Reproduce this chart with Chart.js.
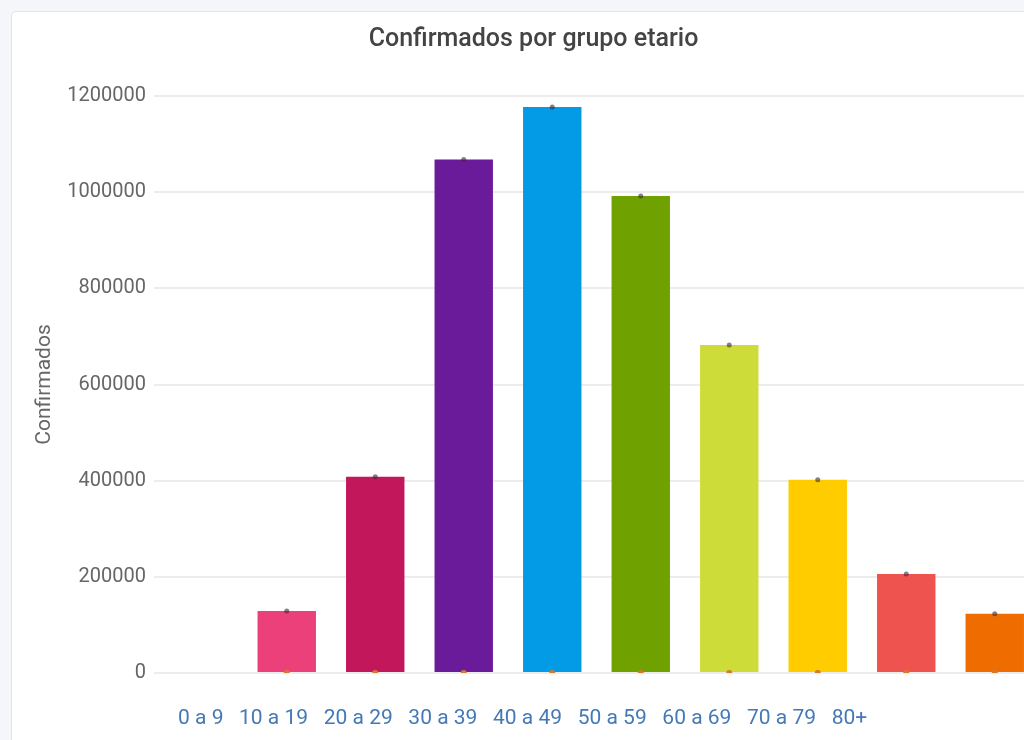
<!DOCTYPE html>
<html>
<head>
<meta charset="utf-8">
<script src="https://cdn.jsdelivr.net/npm/chart.js@4.4.1/dist/chart.umd.min.js"></script>
<style>
  html, body { margin: 0; padding: 0; width: 1024px; height: 740px; overflow: hidden; background: #f4f6f9; }
  #card { position: absolute; left: 11px; top: 11px; width: 1200px; height: 900px; background: #fff;
          border: 1px solid #e2e5e9; border-radius: 5px; }
  #wrap { position: absolute; left: 0; top: 0; width: 1100px; height: 728px; }
  #xlabels { position: absolute; left: 178px; top: 704px; display: flex; gap: 15.6px;
             font-family: Roboto, sans-serif; font-size: 21px; line-height: 26px; color: #4479b5; white-space: nowrap; }
</style>
</head>
<body>
<div id="card"><div id="wrap"><canvas id="c"></canvas></div></div>
<div id="xlabels"></div>
<script>
// ---- data ----
const titleText = 'Confirmados por grupo etario';
const yTitle = 'Confirmados';
const ageGroups = ['0 a 9', '10 a 19', '20 a 29', '30 a 39', '40 a 49', '50 a 59', '60 a 69', '70 a 79', '80+'];
const confirmados = [129000, 408000, 1068000, 1177000, 992000, 682000, 402000, 206000, 123000];
const barColors = ['#ec407a', '#c2185b', '#6a1b9a', '#039be5', '#6fa100', '#cddc39', '#ffcc00', '#ef5350', '#ef6c00'];
const yTicks = [0, 200000, 400000, 600000, 800000, 1000000, 1200000];

// leading empty slot as in the reference
const slots = [''].concat(ageGroups);
const barData = [null].concat(confirmados);
const baseData = [null].concat(confirmados.map(() => 0));
const colors = ['rgba(0,0,0,0)'].concat(barColors);

document.getElementById('xlabels').innerHTML = ageGroups.map(l => '<span>' + l + '</span>').join('');

new Chart(document.getElementById('c'), {
  data: {
    labels: slots,
    datasets: [
      { type: 'line', label: 'top', data: barData, showLine: false, pointRadius: 2.5,
        pointBackgroundColor: 'rgba(60,40,60,0.6)', pointBorderWidth: 0, order: 0 },
      { type: 'line', label: 'base', data: baseData, showLine: false, pointRadius: 3,
        pointBackgroundColor: '#d8782a', pointBorderWidth: 0, order: 0 },
      { type: 'bar', label: yTitle, data: barData, backgroundColor: colors,
        categoryPercentage: 1.0, barPercentage: 0.66, order: 1 }
    ]
  },
  options: {
    responsive: true, maintainAspectRatio: false, animation: false,
    layout: { padding: { left: 16, right: 73, top: 0, bottom: 67 } },
    plugins: {
      legend: { display: false },
      tooltip: { enabled: false },
      title: { display: true, text: titleText, color: '#444',
               font: { family: 'Roboto', size: 25, weight: '500' },
               padding: { top: 13, bottom: 41 } }
    },
    scales: {
      x: { display: true, grid: { display: false, drawTicks: false }, border: { display: false },
           ticks: { display: false } },
      y: { min: 0, max: 1200000,
           afterBuildTicks: s => { s.ticks = yTicks.map(v => ({ value: v })); },
           afterFit: s => { s.width = 126; },
           grid: { color: '#ececec', lineWidth: 2, drawTicks: false },
           border: { display: false },
           ticks: { color: '#666', padding: 8, font: { family: 'Roboto', size: 20 },
                    callback: v => String(v) },
           title: { display: true, text: yTitle, color: '#666', padding: 4,
                    font: { family: 'Roboto', size: 21 } } }
    }
  }
});
</script>
</body>
</html>
